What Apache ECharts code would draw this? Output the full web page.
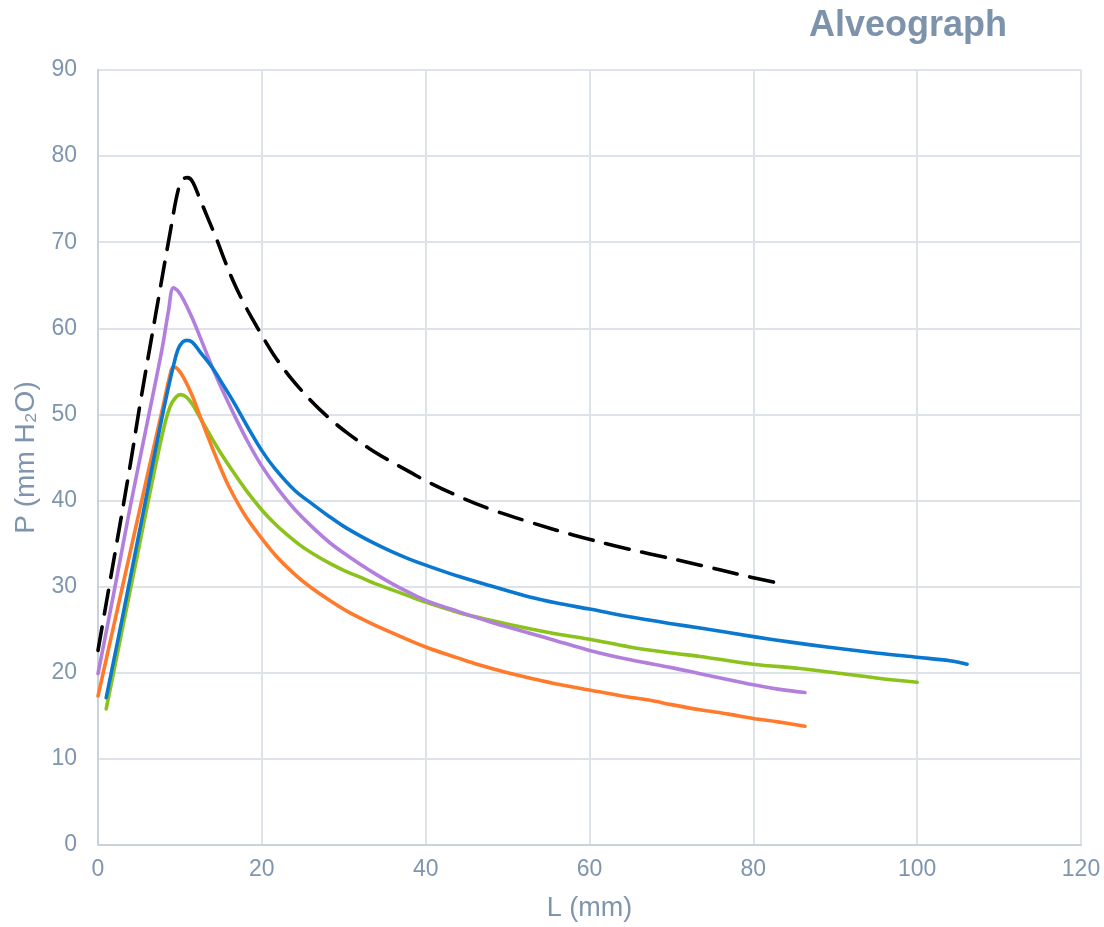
<!DOCTYPE html>
<html>
<head>
<meta charset="utf-8">
<script src="https://cdn.jsdelivr.net/npm/echarts@6/dist/echarts.min.js"></script>
<style>
  html, body { margin: 0; padding: 0; background: #ffffff; }
  #chart { width: 1104px; height: 927px; }
</style>
</head>
<body>
<div id="chart"></div>
<script>
// Data: [L (mm), P (mm H2O)]
const xTicks = [0, 20, 40, 60, 80, 100, 120];
const yTicks = [0, 10, 20, 30, 40, 50, 60, 70, 80, 90];

const curveBlack = [
  [0, 22.6], [2, 33.5], [4, 44.5], [5.1, 51], [7, 61.4], [8.8, 71.1], [9.8, 76.1],
  [10.4, 77.3], [10.9, 77.5], [11.5, 77.1], [12.45, 75.0], [13.5, 72.6], [14.5, 70.3],
  [15.5, 67.8], [16.5, 65.5], [17.7, 63.1], [18.9, 61.0], [20, 59.2], [21.4, 57.0],
  [23.4, 54.4], [26, 51.6], [28.3, 49.5], [30.5, 47.8], [33.2, 46.0], [36, 44.4],
  [38.1, 43.3], [40, 42.3], [44, 40.5], [47.9, 39.0], [52.7, 37.5], [58, 36.0],
  [63.3, 34.7], [67.4, 33.8], [73.5, 32.5], [78.8, 31.3], [82.6, 30.5]
];

const curvePurple = [
  [0, 19.9], [2, 29.6], [4, 39.6], [6, 49.0], [7.8, 57.5], [8.6, 62.0], [9.2, 64.7],
  [9.8, 64.3], [10.5, 63.2], [11.5, 61.2], [12.5, 58.9], [13.9, 55.6], [15.3, 52.6],
  [16.7, 49.8], [18.3, 46.8], [20, 44.0], [22, 41.3], [24, 39.0], [26.3, 36.8],
  [28.3, 35.1], [30, 33.9], [32, 32.6], [34, 31.4], [36, 30.3], [38, 29.3], [40, 28.4],
  [44, 27.1], [47.9, 25.9], [52.7, 24.6], [56, 23.7], [60, 22.6], [65, 21.5],
  [70, 20.6], [73.5, 19.9], [77, 19.2], [80, 18.6], [83, 18.1], [86.3, 17.7]
];

const curveBlue = [
  [1, 17.1], [3, 26.5], [6.1, 41.4], [8, 50.5], [9.4, 56.4], [10, 58.0], [10.8, 58.6],
  [11.5, 58.4], [12.5, 57.2], [13.9, 55.5], [15.3, 53.4], [16.7, 51.2], [18.3, 48.5],
  [20, 45.8], [21.6, 43.7], [24, 41.2], [26.3, 39.5], [28.3, 38.1], [30, 37.0],
  [32, 35.9], [34, 34.9], [36, 34.0], [38, 33.2], [40, 32.5], [44, 31.2], [47.9, 30.1],
  [52.7, 28.8], [56, 28.1], [60, 27.4], [64.9, 26.5], [70, 25.7], [73.5, 25.2],
  [80, 24.2], [85, 23.5], [89, 23.0], [95, 22.3], [100, 21.8], [104, 21.4], [106.1, 21.0]
];

const curveOrange = [
  [0, 17.3], [2, 25.8], [4, 34.3], [6, 42.8], [8, 51.2], [8.7, 54.2], [9.2, 55.5],
  [9.7, 55.3], [10.5, 54.2], [11.5, 52.2], [12.45, 49.8], [14, 46.0], [15, 43.7],
  [16.1, 41.4], [18, 38.2], [20, 35.6], [22, 33.3], [24.3, 31.2], [26, 29.9],
  [28.3, 28.4], [30.5, 27.1], [33.2, 25.8], [36, 24.6], [40, 23.0], [44, 21.7],
  [46.6, 20.9], [50, 20.0], [52.7, 19.4], [56, 18.7], [60, 18.0], [64, 17.3],
  [67.4, 16.8], [70, 16.3], [73.5, 15.7], [77, 15.2], [80, 14.7], [83, 14.3], [86.3, 13.8]
];

const curveGreen = [
  [1, 15.8], [3, 25.2], [5, 34.6], [6.6, 42.1], [8, 48.3], [8.8, 50.9], [9.5, 52.0],
  [10.1, 52.3], [10.8, 52.0], [11.5, 51.2], [12.3, 49.9], [13.2, 48.4], [14.1, 46.9],
  [15, 45.5], [16.1, 43.9], [18, 41.3], [20, 38.9], [21.5, 37.4], [23, 36.1],
  [24.7, 34.8], [26.3, 33.8], [28.3, 32.7], [30, 31.9], [32, 31.1], [34, 30.3],
  [36, 29.6], [38, 28.9], [40, 28.2], [44, 27.0], [47.9, 26.1], [52.7, 25.1],
  [56, 24.5], [60, 23.9], [64.9, 23.0], [70, 22.3], [73.5, 21.9], [80, 21.0],
  [85.7, 20.5], [90, 20.0], [95, 19.4], [100, 18.9]
];

const textColor = '#7F95AE';
const font = 'Liberation Sans, Arial, sans-serif';

function lineSeries(data, color, type) {
  return {
    type: 'line',
    data: data,
    showSymbol: false,
    symbol: 'none',
    smooth: 0.35,
    lineStyle: { color: color, width: 3.6, type: type || 'solid', cap: 'round', join: 'round' },
    z: 3
  };
}

const chart = echarts.init(document.getElementById('chart'), null, { renderer: 'canvas' });
chart.setOption({
  animation: false,
  backgroundColor: '#ffffff',
  title: {
    text: 'Alveograph',
    left: 804,
    top: 3,
    textStyle: { fontSize: 36, fontWeight: 'bold', color: '#7D93AB', fontFamily: font }
  },
  grid: { left: 98, right: 23, top: 70, bottom: 80, containLabel: false },
  xAxis: {
    type: 'value',
    min: xTicks[0],
    max: xTicks[xTicks.length - 1],
    interval: xTicks[1] - xTicks[0],
    name: 'L (mm)',
    nameLocation: 'middle',
    nameGap: 50,
    nameTextStyle: { fontSize: 27, color: textColor, fontFamily: font },
    axisLine: { show: true, lineStyle: { color: '#C9D1DB', width: 2 } },
    axisTick: { show: false },
    axisLabel: { fontSize: 23, color: textColor, fontFamily: font, margin: 13 },
    splitLine: { show: true, lineStyle: { color: '#DEE3EA', width: 2 } }
  },
  yAxis: {
    type: 'value',
    min: yTicks[0],
    max: yTicks[yTicks.length - 1],
    interval: yTicks[1] - yTicks[0],
    name: 'P (mm H\u2082O)',
    nameLocation: 'middle',
    nameGap: 54,
    nameRotate: 90,
    nameTextStyle: { fontSize: 28, color: textColor, fontFamily: font },
    axisLine: { show: true, lineStyle: { color: '#C9D1DB', width: 2 } },
    axisTick: { show: false },
    axisLabel: { fontSize: 23, color: textColor, fontFamily: font, margin: 21 },
    splitLine: { show: true, lineStyle: { color: '#DEE3EA', width: 2 } }
  },
  series: [
    lineSeries(curveBlack, '#000000', [24, 13]),
    lineSeries(curveGreen, '#8CC21C'),
    lineSeries(curveOrange, '#FF7B2B'),
    lineSeries(curvePurple, '#B37FDD'),
    lineSeries(curveBlue, '#0B78D0')
  ]
});
</script>
</body>
</html>
